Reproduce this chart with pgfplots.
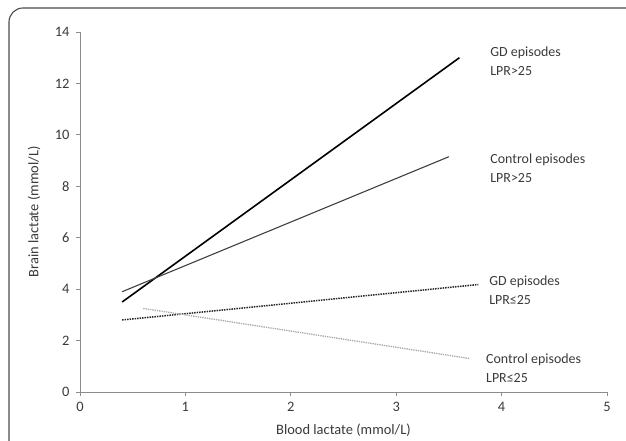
\documentclass[border=0pt]{standalone}
\usepackage{pgfplots}
\pgfplotsset{compat=1.18}
\usepackage{fontspec}
\setmainfont{Carlito}
\definecolor{txt}{HTML}{3A3A3A}
\definecolor{axc}{HTML}{8C8C8C}
\begin{document}
\begin{tikzpicture}
\path[use as bounding box] (-80bp,-49bp) rectangle (546bp,392bp);
\draw[color={black!70}, line width=1.1bp, rounded corners=14bp] (-71bp,-70bp) rectangle (570bp,384bp);
\begin{axis}[
  at={(0,0)}, anchor=origin,
  scale only axis, width=527bp, height=360bp,
  xmin=0, xmax=5, ymin=0, ymax=14,
  xtick={0,1,2,3,4,5}, ytick={0,2,4,6,8,10,12,14},
  axis x line*=bottom, axis y line*=left,
  axis line style={-, color=axc, line width=0.9bp},
  tick style={color=axc, line width=0.9bp},
  tick align=outside, major tick length=4bp,
  tick label style={font=\fontsize{14.5}{16}\selectfont, text=txt},
  yticklabel style={xshift=-3bp},
  xticklabel style={yshift=-3bp},
  /pgf/number format/assume math mode=true,
  xlabel={Blood lactate (mmol/L)},
  ylabel={Brain lactate (mmol/L)},
  every axis x label/.style={at={(axis description cs:0.5,0)}, anchor=center, yshift=-38bp, font=\fontsize{14.5}{17}\selectfont, text=txt},
  every axis y label/.style={at={(axis description cs:0,0.5)}, anchor=center, rotate=90, yshift=46bp, font=\fontsize{14.5}{17}\selectfont, text=txt},
  clip=false,
]
% GD episodes LPR>25
\addplot[black, line width=1.6bp] coordinates {(0.4,3.5) (3.6,13.0)};
% Control episodes LPR>25
\addplot[black!75, line width=1.1bp] coordinates {(0.4,3.9) (3.5,9.15)};
% GD episodes LPR<=25
\addplot[black!85, line width=1.5bp, densely dotted] coordinates {(0.4,2.8) (3.78,4.18)};
% Control episodes LPR<=25
\addplot[black!35, line width=1.3bp, densely dotted] coordinates {(0.6,3.25) (3.7,1.3)};
\begin{scope}[every node/.style={anchor=west, align=left, text=txt, font=\fontsize{14}{19}\selectfont}]
\node at (axis cs:3.86,12.86) {GD episodes\\LPR>25};
\node at (axis cs:3.86,8.72) {Control episodes\\LPR>25};
\node at (axis cs:3.85,3.97) {GD episodes\\LPR≤25};
\node at (axis cs:3.82,0.91) {Control episodes\\LPR≤25};
\end{scope}
\end{axis}
\end{tikzpicture}
\end{document}
